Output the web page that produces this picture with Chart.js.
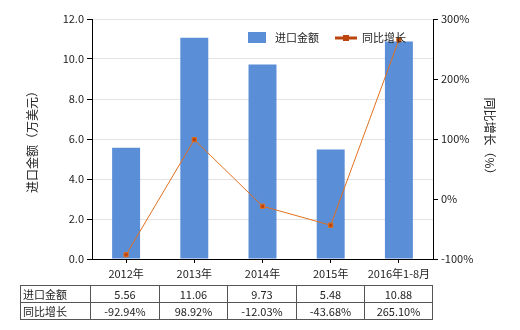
<!DOCTYPE html>
<html><head><meta charset="utf-8">
<script src="https://cdn.jsdelivr.net/npm/chart.js@4/dist/chart.umd.min.js"></script>
<style>
body{margin:0;background:#fff;}
#wrap{position:relative;width:520px;height:330px;}
#tbl{position:absolute;left:20px;top:285px;border-collapse:collapse;table-layout:fixed;font:11px "Noto Sans CJK SC","Noto Sans",sans-serif;color:#222;}
#tbl td{border:1px solid #555;height:16px;padding:0;text-align:center;line-height:16px;overflow:hidden;white-space:nowrap;}
#tbl td.h{text-align:left;padding-left:2px;}
</style>
</head><body>
<div id="wrap">
<canvas id="c" width="520" height="330"></canvas>
<table id="tbl"></table>
</div>
<script>
const categories = ['2012年','2013年','2014年','2015年','2016年1-8月'];
const importValues = [5.56, 11.06, 9.73, 5.48, 10.88];
const growthValues = [-92.94, 98.92, -12.03, -43.68, 265.10];
const seriesNames = ['进口金额','同比增长'];
const leftTitle = '进口金额（万美元）';
const rightTitle = '同比增长（%）';

const FONT = '"Noto Sans CJK SC","Noto Sans",sans-serif';
const BAR = '#5A8ED7';
const LINE = '#E2701F';
const MARK = '#BC450D';

// table
const tbl = document.getElementById('tbl');
const colW = [70, 69, 68, 69, 68, 68];
let cg = '<colgroup>' + colW.map(w => `<col style="width:${w}px">`).join('') + '</colgroup>';
let r1 = '<tr><td class="h">' + seriesNames[0] + '</td>' + importValues.map(v => `<td>${v.toFixed(2)}</td>`).join('') + '</tr>';
let r2 = '<tr><td class="h">' + seriesNames[1] + '</td>' + growthValues.map(v => `<td>${v.toFixed(2)}%</td>`).join('') + '</tr>';
tbl.innerHTML = cg + r1 + r2;
tbl.style.width = colW.reduce((a,b)=>a+b,0) + 'px';

const legendPlugin = {
  id: 'customLegend',
  afterDraw(chart) {
    const ctx = chart.ctx;
    ctx.save();
    ctx.font = '11px ' + FONT;
    ctx.textBaseline = 'middle';
    ctx.fillStyle = BAR;
    ctx.fillRect(248, 32, 18, 11);
    ctx.fillStyle = '#222';
    ctx.fillText(seriesNames[0], 275, 38);
    ctx.strokeStyle = MARK;
    ctx.lineWidth = 3;
    ctx.beginPath(); ctx.moveTo(335, 38); ctx.lineTo(357, 38); ctx.stroke();
    ctx.fillStyle = MARK;
    ctx.fillRect(343, 35, 6, 6);
    ctx.fillStyle = '#222';
    ctx.fillText(seriesNames[1], 362, 38);
    ctx.restore();
  }
};

new Chart(document.getElementById('c'), {
  data: {
    labels: categories,
    datasets: [
      {
        type: 'line', label: seriesNames[1], data: growthValues, yAxisID: 'y2',
        borderColor: LINE, borderWidth: 1, pointStyle: 'rect', pointRadius: 3,
        pointBackgroundColor: MARK, pointBorderColor: LINE, pointBorderWidth: 1,
        tension: 0, order: 0
      },
      {
        type: 'bar', label: seriesNames[0], data: importValues, yAxisID: 'y',
        backgroundColor: BAR, barPercentage: 0.41, categoryPercentage: 1, order: 1
      }
    ]
  },
  options: {
    responsive: false, animation: false,
    layout: { padding: { top: 19, bottom: 0, left: 0, right: 0 } },
    plugins: { legend: { display: false }, tooltip: { enabled: false } },
    scales: {
      x: {
        offset: true,
        grid: { offset: false, drawOnChartArea: false, drawTicks: true, tickLength: 4, tickColor: '#000' },
        border: { color: '#000', width: 1 },
        ticks: { color: '#222', font: { family: FONT, size: 11 }, padding: 4, maxRotation: 0 },
        afterFit(s) { s.height = 71; }
      },
      y: {
        position: 'left', min: 0, max: 12,
        ticks: { stepSize: 2, color: '#222', font: { family: FONT, size: 11 }, padding: 3,
                 callback: v => Number(v).toFixed(1) },
        grid: { color: '#e3e3e3', tickColor: '#000', tickLength: 5 },
        border: { color: '#000', width: 1 },
        title: { display: true, text: leftTitle, color: '#222', font: { family: FONT, size: 12 }, padding: { top: 25 } },
        afterFit(s) { s.width = 92; }
      },
      y2: {
        position: 'right', min: -100, max: 300,
        ticks: { stepSize: 100, color: '#222', font: { family: FONT, size: 11 }, padding: 3,
                 callback: v => v + '%' },
        grid: { drawOnChartArea: false, tickColor: '#000', tickLength: 5 },
        border: { color: '#000', width: 1 },
        title: { display: true, text: rightTitle, color: '#222', font: { family: FONT, size: 12 }, padding: { top: 23 } },
        afterFit(s) { s.width = 87; }
      }
    }
  },
  plugins: [legendPlugin]
});
</script>
</body></html>
